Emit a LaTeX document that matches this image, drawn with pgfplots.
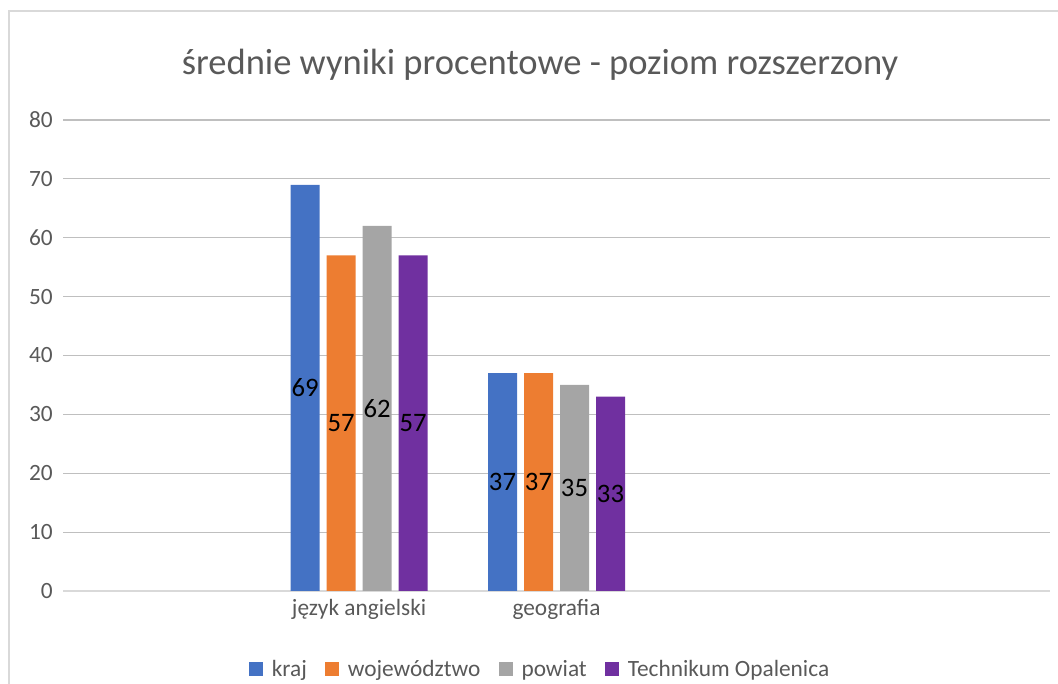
\documentclass[border=0pt]{standalone}
\usepackage{pgfplots}
\pgfplotsset{compat=1.18}
\usepackage{fontspec}
\setmainfont{Carlito}
\definecolor{cKraj}{HTML}{4472C4}
\definecolor{cWoj}{HTML}{ED7D31}
\definecolor{cPow}{HTML}{A5A5A5}
\definecolor{cTech}{HTML}{7030A0}
\definecolor{txt}{HTML}{595959}
\definecolor{grid}{HTML}{D9D9D9}
\begin{document}
\begin{tikzpicture}[x=0.75pt,y=0.75pt]
\path[use as bounding box] (0,0) rectangle (1058,684);
\draw[grid,line width=0.9pt] (9,0) -- (9,673) -- (1058,673);
\node[anchor=base,text=txt,font=\fontsize{27.4pt}{32pt}\selectfont,inner sep=0pt] at (540,609) {średnie wyniki procentowe - poziom rozszerzony};
\begin{axis}[
  at={(47.25pt,69.75pt)}, anchor=south west,
  scale only axis,
  width=740.25pt, height=353.25pt,
  xmin=-0.5, xmax=4.5,
  ymin=0, ymax=80,
  xtick={0,1,2,3,4},
  xticklabels={,język angielski,geografia,,},
  ytick={0,10,...,80},
  major tick length=0pt,
  axis x line*=bottom,
  axis y line*=left,
  x axis line style={grid,line width=0.9pt},
  y axis line style={draw=none},
  ymajorgrids, xmajorgrids=false,
  grid style={grid,line width=0.9pt},
  /pgf/number format/assume math mode=true,
  tick label style={text=txt,font=\fontsize{17.5pt}{20pt}\selectfont},
  yticklabel style={anchor=east,inner sep=0pt,xshift=-7.5pt},
  xticklabel style={anchor=base,inner sep=0pt,yshift=-18.5pt},
  ybar=5.25pt, bar width=21.75pt,
  nodes near coords,
  visualization depends on={rawy \as \ry},
  every node near coord/.append style={anchor=center,text=black,
     font=\fontsize{20pt}{24pt}\selectfont, yshift={-\ry*2.2078pt}},
  legend columns=4,
  legend style={at={(0.4823,-0.1656)},anchor=center,draw=none,fill=none,
    font=\fontsize{17.5pt}{20pt}\selectfont,text=txt,
    nodes={inner sep=0pt},
    /tikz/every odd column/.append style={column sep=6.75pt},
    /tikz/every even column/.append style={column sep=13.5pt}},
  legend image code/.code={\fill[#1,draw=none] (0pt,-5.25pt) rectangle (10.5pt,5.25pt);},
]
\addplot[fill=cKraj,draw=none] coordinates {(1,69) (2,37)};
\addplot[fill=cWoj,draw=none] coordinates {(1,57) (2,37)};
\addplot[fill=cPow,draw=none] coordinates {(1,62) (2,35)};
\addplot[fill=cTech,draw=none] coordinates {(1,57) (2,33)};
\legend{kraj,województwo,powiat,Technikum Opalenica}
\end{axis}
\end{tikzpicture}
\end{document}
